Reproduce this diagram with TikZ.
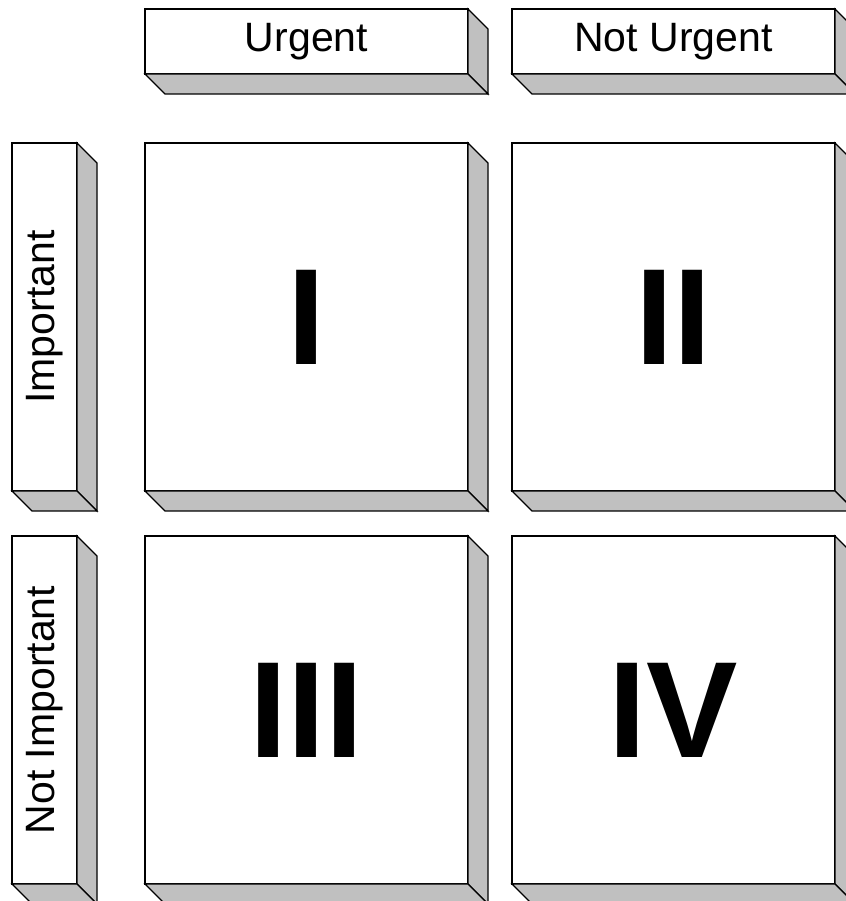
\documentclass[tikz,border=0pt]{standalone}
\usepackage{fontspec}
\usepackage{graphicx}
\setmainfont{Liberation Sans}
\usetikzlibrary{positioning, calc}

\definecolor{facegray}{HTML}{C0C0C0}

\tikzset{
  slab/.style={draw=black, fill=white, line width=1.2pt, inner sep=0pt, outer sep=0pt},
  bigslab/.style={slab, minimum width=323pt, minimum height=348pt,
    font=\fontsize{137}{160}\selectfont\bfseries},
  headslab/.style={slab, minimum width=323pt, minimum height=65pt,
    font=\fontsize{41}{49}\selectfont},
  sideslab/.style={slab, minimum width=65pt, minimum height=348pt,
    font=\fontsize{41}{49}\selectfont},
  face/.style={draw=black, fill=facegray, line width=1.2pt}
}

\begin{document}
\begin{tikzpicture}[x=1pt, y=1pt]
    \useasboundingbox (0,0) rectangle (845,901);

    % Quadrants
    \node[bigslab] (q1) at (306.5,584) {I};
    \node[bigslab, right=44pt of q1] (q2) {II};
    \node[bigslab, below=45pt of q1] (q3) {III};
    \node[bigslab, right=44pt of q3] (q4) {IV};

    % Column headers
    \node[headslab, above=69pt of q1] (urg) {Urgent};
    \node[headslab, above=69pt of q2] (nurg) {Not Urgent};

    % Row headers
    \node[sideslab, left=68pt of q1] (imp) {\rotatebox{90}{Important}};
    \node[sideslab, left=68pt of q3] (nimp) {\rotatebox{90}{Not Important}};

    % Shaded side and bottom faces
    \foreach \n in {urg,nurg,imp,nimp,q1,q2,q3,q4}{
        \draw[face] (\n.north east) -- ++(20,-20) -- ($(\n.south east)+(20,-20)$) -- (\n.south east) -- cycle;
        \draw[face] (\n.south west) -- ++(20,-20) -- ($(\n.south east)+(20,-20)$) -- (\n.south east) -- cycle;
    }

\end{tikzpicture}
\end{document}
